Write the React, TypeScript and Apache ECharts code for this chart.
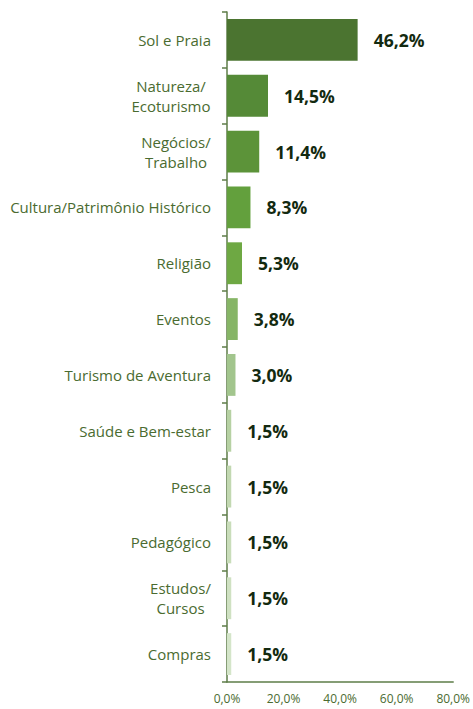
import React, { useEffect, useRef } from "react";
import * as echarts from "echarts";

const categories = [
  "Sol e Praia",
  "Natureza/\nEcoturismo",
  "Negócios/\nTrabalho",
  "Cultura/Patrimônio Histórico",
  "Religião",
  "Eventos",
  "Turismo de Aventura",
  "Saúde e Bem-estar",
  "Pesca",
  "Pedagógico",
  "Estudos/\nCursos",
  "Compras",
];
const values = [46.2, 14.5, 11.4, 8.3, 5.3, 3.8, 3.0, 1.5, 1.5, 1.5, 1.5, 1.5];
const barColors = [
  "#4b7430",
  "#558a37",
  "#5c9339",
  "#63a03d",
  "#6ea843",
  "#86b566",
  "#a2c58d",
  "#b6d1a3",
  "#c2d8b1",
  "#c9ddba",
  "#cfe1c2",
  "#d4e5c9",
];
const xTicks = [0, 20, 40, 60, 80];

const fmt = (v: number) => v.toFixed(1).replace(".", ",") + "%";

const LABEL_FONT = "15px 'Open Sans'";

export default function App() {
  const ref = useRef<HTMLDivElement>(null);
  useEffect(() => {
    if (!ref.current) return;
    const cv = document.createElement("canvas");
    const ctx = cv.getContext("2d")!;
    ctx.font = LABEL_FONT;
    const rich: Record<string, any> = {};
    const labelMap: Record<string, string> = {};
    categories.forEach((c, i) => {
      const lines = c.split("\n");
      if (lines.length > 1) {
        const w = Math.ceil(Math.max(...lines.map((l) => ctx.measureText(l).width)));
        const key = "m" + i;
        rich[key] = {
          width: w,
          align: "center",
          color: "#4a6b30",
          fontFamily: "Open Sans",
          fontSize: 15,
          lineHeight: 20,
        };
        labelMap[c] = lines.map((l) => `{${key}|${l}}`).join("\n");
      } else {
        labelMap[c] = c;
      }
    });

    const chart = echarts.init(ref.current, null, { renderer: "svg" });
    chart.setOption({
      animation: false,
      backgroundColor: "#ffffff",
      grid: { left: 227, right: 17, top: 12, bottom: 27, containLabel: false },
      xAxis: {
        type: "value",
        min: xTicks[0],
        max: xTicks[xTicks.length - 1],
        interval: 20,
        axisLine: { show: true, lineStyle: { color: "#5e7d48", width: 1.5 } },
        axisTick: { show: false },
        splitLine: { show: false },
        axisLabel: {
          formatter: (v: number) => fmt(v),
          color: "#4a6b30",
          fontFamily: "Open Sans",
          fontSize: 12,
          margin: 10,
        },
      },
      yAxis: {
        type: "category",
        inverse: true,
        data: categories,
        axisLine: { show: true, lineStyle: { color: "#5e7d48", width: 1.5 } },
        axisTick: { show: true, length: 5, lineStyle: { color: "#5e7d48", width: 1.5 } },
        axisLabel: {
          color: "#4a6b30",
          fontFamily: "Open Sans",
          fontSize: 15,
          lineHeight: 20,
          margin: 16,
          align: "right",
          formatter: (v: string) => labelMap[v] ?? v,
          rich,
        },
      },
      series: [
        {
          type: "bar",
          data: values.map((v, i) => ({ value: v, itemStyle: { color: barColors[i] } })),
          barCategoryGap: "25%",
          label: {
            show: true,
            position: "right",
            distance: 16,
            formatter: (p: any) => fmt(p.value),
            color: "#132a10",
            fontFamily: "Open Sans",
            fontWeight: "bold",
            fontSize: 17.5,
          },
        },
      ],
    });
    return () => chart.dispose();
  }, []);
  return (
    <div
      ref={ref}
      style={{ position: "absolute", left: 0, top: 0, width: 473, height: 709 }}
    />
  );
}
